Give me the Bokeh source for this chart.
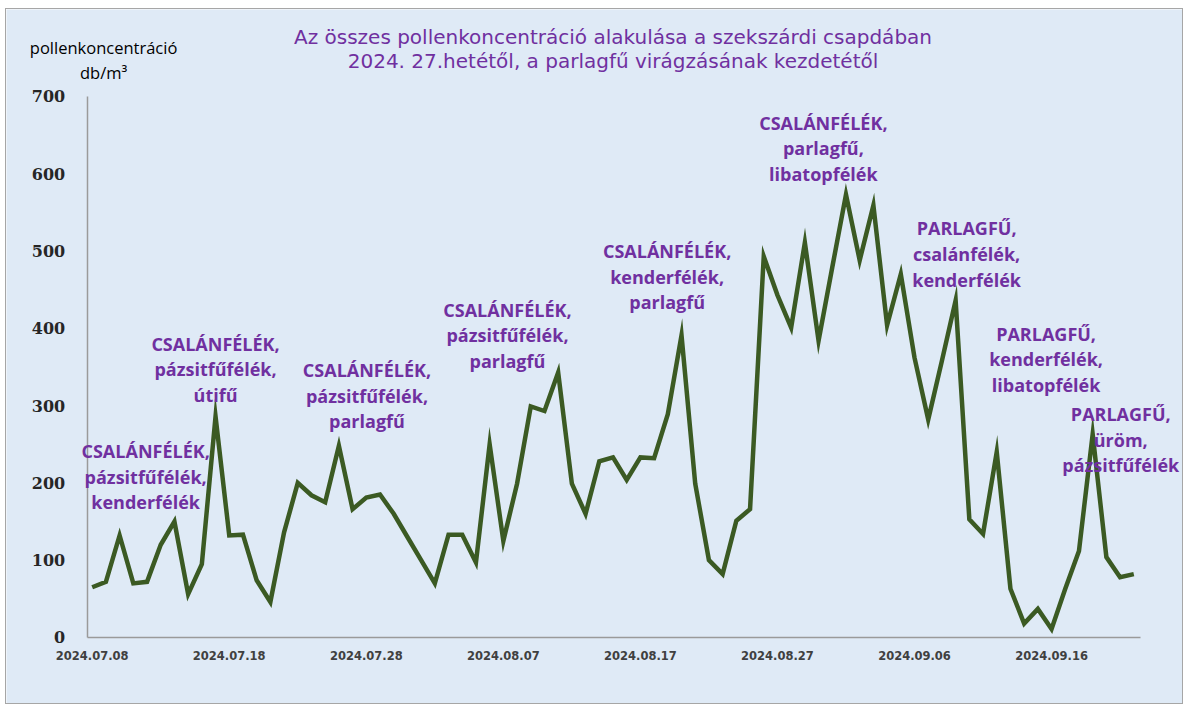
from bokeh.plotting import figure
from bokeh.models import Range1d, FixedTicker, Label
from bokeh.embed import file_html
from bokeh.resources import INLINE

# ---- data ----
days = list(range(77))  # daily values, 2024.07.08 ... 2024.09.22
pollen = [65, 72, 132, 70, 72, 120, 150, 56, 95, 286,
          132, 133, 74, 46, 136, 200, 184, 175, 248, 166,
          181, 185, 160, 130, 100, 70, 133, 133, 97, 250,
          125, 199, 299, 293, 343, 199, 160, 228, 233, 204,
          233, 232, 289, 391, 199, 100, 82, 151, 166, 493,
          443, 401, 511, 384, 479, 573, 488, 559, 404, 470,
          362, 282, 358, 436, 153, 134, 240, 63, 18, 37,
          11, 63, 112, 263, 104, 78, 82]
tick_days = [0, 10, 20, 30, 40, 50, 60, 70]
tick_labels = ["2024.07.08", "2024.07.18", "2024.07.28", "2024.08.07",
               "2024.08.17", "2024.08.27", "2024.09.06", "2024.09.16"]
y_ticks = [0, 100, 200, 300, 400, 500, 600, 700]

annotations = [
    "CSALÁNFÉLÉK,\npázsitfűfélék,\nkenderfélék",
    "CSALÁNFÉLÉK,\npázsitfűfélék,\nútifű",
    "CSALÁNFÉLÉK,\npázsitfűfélék,\nparlagfű",
    "CSALÁNFÉLÉK,\npázsitfűfélék,\nparlagfű",
    "CSALÁNFÉLÉK,\nkenderfélék,\nparlagfű",
    "CSALÁNFÉLÉK,\nparlagfű,\nlibatopfélék",
    "PARLAGFŰ,\ncsalánfélék,\nkenderfélék",
    "PARLAGFŰ,\nkenderfélék,\nlibatopfélék",
    "PARLAGFŰ,\nüröm,\npázsitfűfélék",
]
# layout anchors (day, value) for annotation centres
ann_pos = [(3.9, 208), (9.0, 347), (20.05, 313), (30.3, 391), (41.95, 467),
           (53.35, 633), (63.8, 496), (69.6, 360), (75.05, 256)]

title_lines = ["Az összes pollenkoncentráció alakulása a szekszárdi csapdában",
               "2024. 27.hetétől, a parlagfű virágzásának kezdetétől"]
ytitle_lines = ["pollenkoncentráció", "db/m³"]

BG = "#dfeaf6"
PURPLE = "#7030a0"
LINE = "#3b5a23"

X_AXIS_START, X_AXIS_END = -0.365, 76.46

p = figure(width=1178, height=696, output_backend="svg", toolbar_location=None,
           tools="", x_range=Range1d(-6.253, 79.70), y_range=Range1d(-88.0, 812.5),
           min_border_left=0, min_border_right=0, min_border_top=0,
           min_border_bottom=0, background_fill_color=BG, border_fill_color=BG)
p.styles = {"border": "1px solid #a6a6a6", "margin-left": "5px", "margin-top": "8px"}
p.outline_line_color = None
p.grid.visible = False

p.line(days, pollen, line_color=LINE, line_width=4.5, line_join="miter")

# axes (drawn inside the canvas at fixed positions)
p.xaxis.fixed_location = 0
p.xaxis.bounds = (X_AXIS_START, X_AXIS_END)
p.xaxis.ticker = FixedTicker(ticks=tick_days)
p.xaxis.major_label_overrides = {d: l for d, l in zip(tick_days, tick_labels)}
p.xaxis.major_label_text_font = "DejaVu Sans"
p.xaxis.major_label_text_font_style = "bold"
p.xaxis.major_label_text_font_size = "11.5px"
p.xaxis.major_label_text_color = "#404040"
p.xaxis.major_label_standoff = 14

p.yaxis.fixed_location = X_AXIS_START
p.yaxis.bounds = (0, 700)
p.yaxis.ticker = FixedTicker(ticks=y_ticks)
p.yaxis.major_label_text_font = "DejaVu Serif"
p.yaxis.major_label_text_font_style = "bold"
p.yaxis.major_label_text_font_size = "16px"
p.yaxis.major_label_text_color = "#262626"
p.yaxis.major_label_standoff = 22

for ax in (p.xaxis, p.yaxis):
    ax.axis_line_color = "#9a9a9a"
    ax.axis_line_width = 1.5
    ax.major_tick_line_color = None
    ax.minor_tick_line_color = None
    ax.major_tick_out = 0
    ax.major_tick_in = 0

# annotations
for txt, (ax_, ay_) in zip(annotations, ann_pos):
    p.add_layout(Label(x=ax_, y=ay_, text=txt, text_align="center",
                       text_baseline="middle", text_font="Open Sans",
                       text_font_style="bold", text_font_size="18px",
                       text_color=PURPLE, text_line_height=1.07))

# title
for txt, ty in zip(title_lines, [777.5, 746.5]):
    p.add_layout(Label(x=38.0, y=ty, text=txt, text_align="center",
                       text_baseline="middle", text_font="DejaVu Sans",
                       text_font_size="20px", text_color=PURPLE))

# y axis title
for txt, ty in zip(ytitle_lines, [763.5, 731]):
    p.add_layout(Label(x=0.83, y=ty, text=txt, text_align="center",
                       text_baseline="middle", text_font="Open Sans",
                       text_font_size="16.5px", text_color="#000000"))

open("out.html", "w").write(file_html(p, INLINE))
